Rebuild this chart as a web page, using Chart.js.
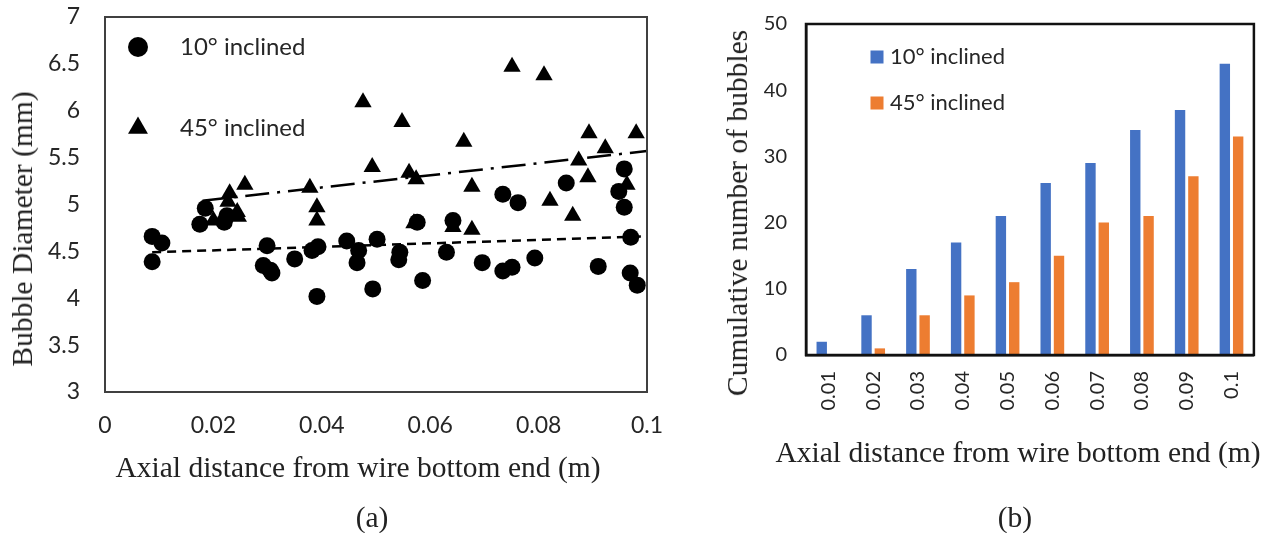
<!DOCTYPE html>
<html>
<head>
<meta charset="utf-8">
<script src="https://cdn.jsdelivr.net/npm/chart.js@4"></script>
<style>
  body { margin: 0; background: #fff; }
  .panel { position: absolute; top: 0; }
  .label { position: absolute; transform: translate(-50%, -50%); white-space: nowrap;
           font: 29.5px 'Liberation Serif', serif; line-height: 34px; color: #222; }
  .vertical { transform: translate(-50%, -50%) rotate(-90deg); }
</style>
</head>
<body>
<div class="panel" style="left:0"><canvas id="diameter" width="690" height="533"></canvas></div>
<div class="panel" style="left:690px"><canvas id="cumulative" width="582" height="533"></canvas></div>

<div class="label vertical" style="left:22px; top:229px">Bubble Diameter (mm)</div>
<div class="label" style="left:358px; top:467px">Axial distance from wire bottom end (m)</div>
<div class="label" style="left:372px; top:517px">(a)</div>
<div class="label vertical" style="left:737px; top:213px">Cumulative number of bubbles</div>
<div class="label" style="left:1018px; top:452px">Axial distance from wire bottom end (m)</div>
<div class="label" style="left:1015px; top:517px">(b)</div>

<script>
const seriesNames = ['10° inclined', '45° inclined'];

// (a) bubble diameter along the wire, one point per bubble
const posX10 = [0.0087, 0.0105, 0.0087, 0.0175, 0.0185, 0.0225, 0.0220, 0.0299, 0.0292, 0.0305,
                0.0308, 0.0350, 0.0382, 0.0393, 0.0391, 0.0446, 0.0468, 0.0465, 0.0502, 0.0494,
                0.0544, 0.0542, 0.0586, 0.0576, 0.0630, 0.0642, 0.0696, 0.0734, 0.0751, 0.0793,
                0.0734, 0.0762, 0.0851, 0.0910, 0.0958, 0.0948, 0.0958, 0.0970, 0.0969, 0.0982];
const diam10 = [4.66, 4.59, 4.39, 4.79, 4.96, 4.88, 4.81, 4.56, 4.35, 4.30,
                4.27, 4.42, 4.51, 4.55, 4.02, 4.61, 4.51, 4.38, 4.63, 4.10,
                4.49, 4.41, 4.19, 4.81, 4.49, 4.83, 4.38, 4.29, 4.33, 4.43,
                5.11, 5.02, 5.23, 4.34, 5.38, 5.14, 4.97, 4.65, 4.27, 4.14];
const posX45 = [0.0200, 0.0227, 0.0230, 0.0258, 0.0244, 0.0246, 0.0378, 0.0391, 0.0391, 0.0476,
                0.0548, 0.0662, 0.0493, 0.0561, 0.0574, 0.0677, 0.0570, 0.0642, 0.0677, 0.0751,
                0.0810, 0.0893, 0.0980, 0.0923, 0.0874, 0.0891, 0.0821, 0.0863, 0.0963];
const diam45 = [4.83, 5.03, 5.12, 5.21, 4.92, 4.87, 5.18, 4.97, 4.83, 6.09,
                5.88, 5.67, 5.40, 5.34, 5.27, 5.19, 4.80, 4.76, 4.73, 6.47,
                6.38, 5.76, 5.76, 5.60, 5.47, 5.29, 5.04, 4.88, 5.21];

// linear trend lines (end points)
const trendX10 = [0.0087, 0.1];
const trendY10 = [4.49, 4.66];
const trendX45 = [0.018, 0.1];
const trendY45 = [5.04, 5.57];

// (b) cumulative bubble count
const distances = ['0.01', '0.02', '0.03', '0.04', '0.05', '0.06', '0.07', '0.08', '0.09', '0.1'];
const count10 = [2, 6, 13, 17, 21, 26, 29, 34, 37, 44];
const count45 = [0, 1, 6, 9, 11, 15, 20, 21, 27, 33];

const ink = '#262626';
Chart.defaults.font.family = 'Lato';
Chart.defaults.color = ink;

const toPoints = (xs, ys) => xs.map((x, i) => ({ x: x, y: ys[i] }));
const trim = v => String(Number(v.toFixed(2)));

// fixed axis size; drop the extra room chart.js keeps for the end labels
const fixWidth = w => s => { s.width = w; s.paddingTop = 0; s.paddingBottom = 0; };
const fixHeight = h => s => { s.height = h; };

// box round the plot area
const frame = {
  id: 'frame',
  afterDatasetsDraw(chart, args, opts) {
    const a = chart.chartArea, ctx = chart.ctx;
    ctx.save();
    ctx.strokeStyle = opts.color;
    ctx.lineWidth = opts.width;
    ctx.strokeRect(a.left, a.top, a.right - a.left, a.bottom - a.top);
    ctx.restore();
  }
};

// legend drawn inside the plot, one row per listed dataset
const insideLegend = {
  id: 'insideLegend',
  afterDraw(chart, args, opts) {
    const ctx = chart.ctx, a = chart.chartArea;
    ctx.save();
    ctx.textBaseline = 'middle';
    ctx.font = opts.size + 'px Lato';
    opts.items.forEach((idx, i) => {
      const ds = chart.data.datasets[idx];
      const x = a.left + opts.left;
      const y = a.top + opts.top + i * opts.gap;
      ctx.fillStyle = ds.backgroundColor;
      if (opts.swatch) {
        ctx.fillRect(x - opts.swatch / 2, y - opts.swatch / 2, opts.swatch, opts.swatch);
      } else {
        Chart.helpers.drawPoint(ctx, { pointStyle: ds.pointStyle, radius: ds.pointRadius + 1.5, borderWidth: 0 }, x, y);
      }
      ctx.fillStyle = ink;
      ctx.fillText(ds.label, a.left + opts.textLeft, y);
    });
    ctx.restore();
  }
};

new Chart(document.getElementById('diameter'), {
  type: 'scatter',
  data: {
    datasets: [
      { label: seriesNames[0], data: toPoints(posX10, diam10), pointStyle: 'circle', pointRadius: 8.5,
        backgroundColor: '#000', pointBorderWidth: 0 },
      { label: seriesNames[1], data: toPoints(posX45, diam45), pointStyle: 'triangle', pointRadius: 10,
        backgroundColor: '#000', pointBorderWidth: 0 },
      { label: 'trend 10', data: toPoints(trendX10, trendY10), showLine: true, pointRadius: 0,
        borderColor: '#000', borderWidth: 2.5, borderDash: [9, 6] },
      { label: 'trend 45', data: toPoints(trendX45, trendY45), showLine: true, pointRadius: 0,
        borderColor: '#000', borderWidth: 2.5, borderDash: [24, 8, 3, 8] }
    ]
  },
  options: {
    responsive: false,
    animation: false,
    layout: { padding: { top: 17, right: 43, left: 0, bottom: 0 } },
    plugins: {
      legend: { display: false },
      tooltip: { enabled: false },
      frame: { color: '#404040', width: 2 },
      insideLegend: { items: [0, 1], left: 33, top: 30, gap: 81, textLeft: 75, size: 24 }
    },
    scales: {
      x: {
        type: 'linear', min: 0, max: 0.1,
        grid: { display: false, drawTicks: false },
        border: { color: '#404040', width: 2 },
        ticks: { stepSize: 0.02, padding: 20, font: { size: 23 }, callback: trim },
        afterFit: fixHeight(141)
      },
      y: {
        min: 3, max: 7,
        grid: { display: false, drawTicks: false },
        border: { color: '#404040', width: 2 },
        ticks: { stepSize: 0.5, padding: 25, font: { size: 23 }, callback: trim },
        afterFit: fixWidth(105)
      }
    }
  },
  plugins: [frame, insideLegend]
});

new Chart(document.getElementById('cumulative'), {
  type: 'bar',
  data: {
    labels: distances,
    datasets: [
      { label: seriesNames[0], data: count10, backgroundColor: '#4472C4',
        categoryPercentage: 0.595, barPercentage: 0.78 },
      { label: seriesNames[1], data: count45, backgroundColor: '#ED7D31',
        categoryPercentage: 0.595, barPercentage: 0.78 }
    ]
  },
  options: {
    responsive: false,
    animation: false,
    layout: { padding: { top: 24, right: 10, left: 0, bottom: 0 } },
    plugins: {
      legend: { display: false },
      tooltip: { enabled: false },
      frame: { color: '#111', width: 2.5 },
      insideLegend: { items: [0, 1], left: 71, top: 33, gap: 46, textLeft: 84, size: 22, swatch: 13 }
    },
    scales: {
      x: {
        grid: { display: false, drawTicks: false },
        border: { color: '#111', width: 2.5 },
        ticks: { minRotation: 90, maxRotation: 90, padding: 16, font: { size: 20 } },
        afterFit: fixHeight(178)
      },
      y: {
        min: 0, max: 50,
        grid: { display: false, drawTicks: false },
        border: { color: '#111', width: 2.5 },
        ticks: { stepSize: 10, padding: 19, font: { size: 20 } },
        afterFit: fixWidth(116)
      }
    }
  },
  plugins: [frame, insideLegend]
});
</script>
</body>
</html>
